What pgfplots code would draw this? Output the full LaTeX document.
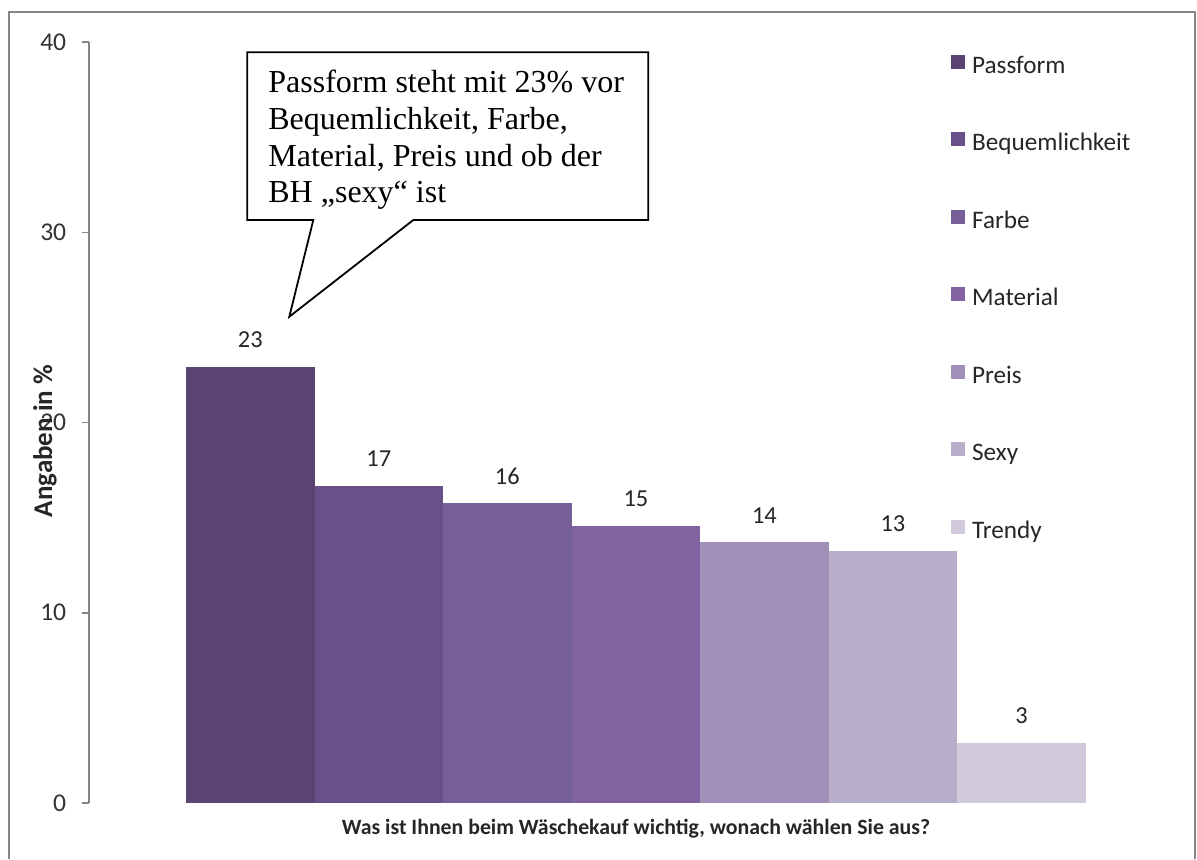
\documentclass[border=0pt]{standalone}
\usepackage{fontspec}
\setmainfont{Carlito}
\newfontfamily\timesfont{Liberation Serif}
\usepackage{pgfplots}
\pgfplotsset{compat=1.18}

% bar colours, darkest to lightest
\definecolor{c1}{RGB}{90,68,113}
\definecolor{c2}{RGB}{105,80,136}
\definecolor{c3}{RGB}{118,94,150}
\definecolor{c4}{RGB}{128,99,160}
\definecolor{c5}{RGB}{160,144,183}
\definecolor{c6}{RGB}{185,174,201}
\definecolor{c7}{RGB}{208,202,220}
\definecolor{axisgray}{RGB}{134,134,134}

\begin{document}
\begin{tikzpicture}
\begin{axis}[
    at={(44.5pt,-401.5pt)}, anchor=south west,
    scale only axis,
    width=530.5pt, height=380.5pt,
    xmin=-1.2545, xmax=7, ymin=0, ymax=40,
    ytick={0,10,20,30,40},
    xtick=\empty,
    axis y line*=left, axis x line*=bottom,
    x axis line style={draw=none},
    y axis line style={draw=axisgray, line width=0.75pt},
    ytick style={draw=axisgray, line width=0.75pt},
    tick align=outside, major tick length=3.5pt,
    /pgf/number format/assume math mode=true,
    yticklabel style={font=\fontsize{12.8}{14}\selectfont, text=black!80,
        anchor=east, inner sep=0pt, xshift=-7.7pt},
    ylabel={Angaben in \%},
    ylabel style={at={(axis description cs:-0.0415,0.4757)}, anchor=center,
        font=\bfseries\fontsize{13.5}{15}\selectfont, text=black!85},
    xlabel={Was ist Ihnen beim Wäschekauf wichtig, wonach wählen Sie aus?},
    xlabel style={at={(axis description cs:0.5155,-0.0342)}, anchor=center,
        font=\bfseries\fontsize{10.9}{13}\selectfont, text=black!85},
    ybar, bar width=1, bar shift=0pt,
    nodes near coords={\pgfmathprintnumber[fixed,precision=0]{\pgfplotspointmeta}},
    every node near coord/.append style={anchor=base, yshift=9.5pt,
        font=\fontsize{12.2}{14}\selectfont, text=black!85},
    legend cell align=left,
    legend image code/.code={\fill[#1, draw=none] (0pt,-0.5pt) rectangle (7pt,6.5pt);},
    legend style={at={(axis description cs:0.8122,0.984)}, anchor=north west,
        draw=none, fill=none, inner sep=0pt, row sep=26.5pt,
        font=\fontsize{12.6}{14}\selectfont, text=black!85,
        nodes={inner sep=0pt, text height=8.5pt, text depth=3pt},
        /tikz/every odd column/.append style={column sep=3.5pt}},
]
\addplot[fill=c1, draw=none] coordinates {(0,22.93)};
\addlegendentry{Passform}
\addplot[fill=c2, draw=none] coordinates {(1,16.67)};
\addlegendentry{Bequemlichkeit}
\addplot[fill=c3, draw=none] coordinates {(2,15.75)};
\addlegendentry{Farbe}
\addplot[fill=c4, draw=none] coordinates {(3,14.57)};
\addlegendentry{Material}
\addplot[fill=c5, draw=none] coordinates {(4,13.70)};
\addlegendentry{Preis}
\addplot[fill=c6, draw=none] coordinates {(5,13.26)};
\addlegendentry{Sexy}
\addplot[fill=c7, draw=none] coordinates {(6,3.17)};
\addlegendentry{Trendy}
\end{axis}

% frame and callout, in pixel units of the reference
\begin{scope}[x=0.5pt, y=-0.5pt]
\draw[axisgray, line width=1pt] (9,859) -- (9,12) -- (1195,12) -- (1195,859);
\draw[fill=white, line width=0.9pt] (247.3,52.3) -- (648.3,52.3) -- (648.3,220)
    -- (413.3,220) -- (289.3,316.7) -- (313.3,220) -- (247.3,220) -- cycle;
\begin{scope}[every node/.style={anchor=base west, inner sep=0pt,
      font=\timesfont\fontsize{16}{18}\selectfont}]
\node at (268,92.7) {Passform steht mit 23\% vor};
\node at (268,129.4) {Bequemlichkeit, Farbe,};
\node at (268,166.1) {Material, Preis und ob der};
\node at (268,202.8) {BH „sexy“ ist};
\end{scope}
\end{scope}

\pgfresetboundingbox
\path (0,0) rectangle (598.5pt,-429.5pt);
\end{tikzpicture}
\end{document}
